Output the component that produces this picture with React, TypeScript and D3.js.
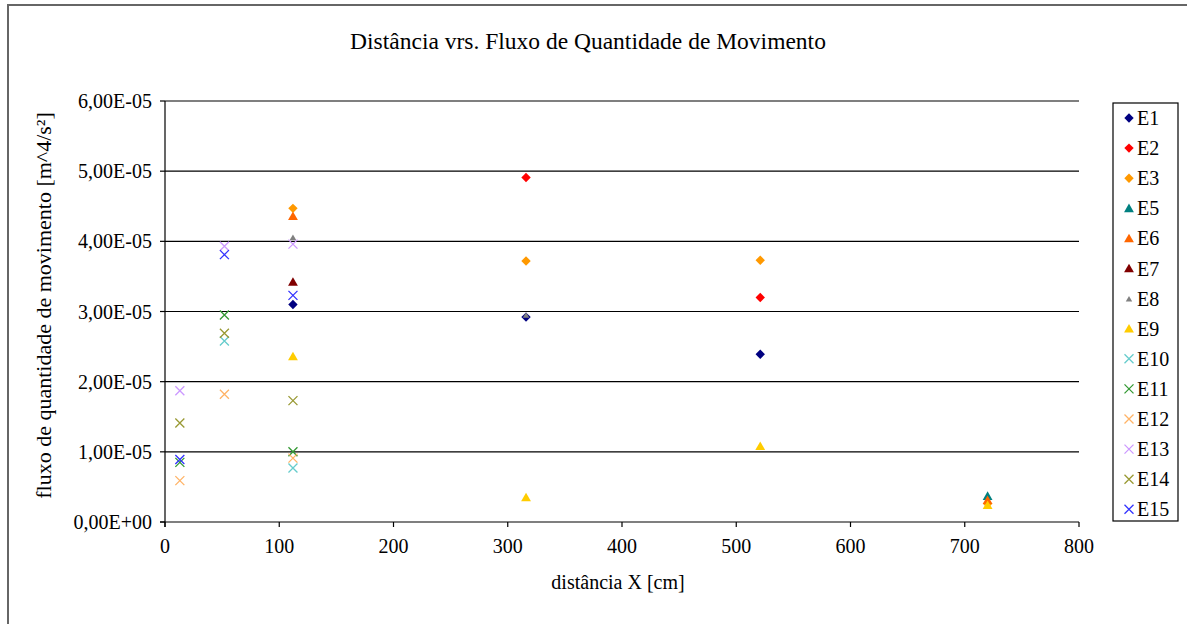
import React from "react";
import * as d3 from "d3";

const xTicks = [0, 100, 200, 300, 400, 500, 600, 700, 800];
const yTicks = [0, 1e-5, 2e-5, 3e-5, 4e-5, 5e-5, 6e-5];
const yTickLabels = ["0,00E+00", "1,00E-05", "2,00E-05", "3,00E-05", "4,00E-05", "5,00E-05", "6,00E-05"];

const seriesNames = ["E1", "E2", "E3", "E5", "E6", "E7", "E8", "E9", "E10", "E11", "E12", "E13", "E14", "E15"];
const seriesColors = ["#000080", "#FF0000", "#FF9900", "#008080", "#FF6600", "#800000", "#808080", "#FFCC00", "#66CCCC", "#339933", "#FFB366", "#CC99FF", "#999933", "#3333FF"];
const seriesShapes = ["diamond", "diamond", "diamond", "triangle", "triangle", "triangle", "smalltriangle", "triangle", "x", "x", "x", "x", "x", "x"];

const E1 = [[112, 3.10e-5], [316, 2.92e-5], [521, 2.39e-5]];
const E2 = [[316, 4.91e-5], [521, 3.20e-5]];
const E3 = [[112, 4.47e-5], [316, 3.72e-5], [521, 3.73e-5], [720, 2.6e-6]];
const E5 = [[720, 3.7e-6]];
const E6 = [[112, 4.36e-5], [720, 3.1e-6]];
const E7 = [[112, 3.42e-5]];
const E8 = [[112, 4.06e-5], [316, 2.95e-5]];
const E9 = [[112, 2.36e-5], [316, 3.5e-6], [521, 1.08e-5], [720, 2.4e-6]];
const E10 = [[52, 2.58e-5], [112, 7.7e-6]];
const E11 = [[13, 8.5e-6], [52, 2.95e-5], [112, 1.0e-5]];
const E12 = [[13, 5.9e-6], [52, 1.82e-5], [112, 9.1e-6]];
const E13 = [[13, 1.87e-5], [52, 3.93e-5], [112, 3.96e-5]];
const E14 = [[13, 1.41e-5], [52, 2.69e-5], [112, 1.73e-5]];
const E15 = [[13, 8.9e-6], [52, 3.81e-5], [112, 3.23e-5]];

const seriesData = [E1, E2, E3, E5, E6, E7, E8, E9, E10, E11, E12, E13, E14, E15];

const FONT = "'Liberation Serif', 'Times New Roman', serif";

function Marker({ shape, color, x, y }: { shape: string; color: string; x: number; y: number }) {
  if (shape === "diamond") {
    const p = d3.symbol().type(d3.symbolSquare).size(44)();
    return <path d={p || ""} transform={`translate(${x},${y}) rotate(45)`} fill={color} />;
  }
  if (shape === "triangle" || shape === "smalltriangle") {
    const p = d3.symbol().type(d3.symbolTriangle).size(shape === "triangle" ? 42 : 18)();
    return <path d={p || ""} transform={`translate(${x},${y + 1})`} fill={color} />;
  }
  const r = 4.5;
  return (
    <path
      d={`M${-r},${-r}L${r},${r}M${-r},${r}L${r},${-r}`}
      transform={`translate(${x},${y})`}
      stroke={color}
      strokeWidth={1.3}
      fill="none"
    />
  );
}

export default function App() {
  const left = 165, right = 1079, top = 101, bottom = 522;
  const x = d3.scaleLinear().domain([0, 800]).range([left, right]);
  const y = d3.scaleLinear().domain([0, 6e-5]).range([bottom, top]);

  const legendX = 1113, legendY = 103, legendW = 65, legendH = 418;
  const legendStep = 30.1;

  return (
    <svg width={1187} height={624} style={{ position: "absolute", left: 0, top: 0, background: "#fff" }}>
      <rect x={0} y={0} width={1187} height={624} fill="#fff" />
      <rect x={8} y={5} width={1220} height={700} fill="none" stroke="#666" strokeWidth={2} />
      <text x={588} y={49} textAnchor="middle" fontFamily={FONT} fontSize={23.5} fill="#000">
        Distância vrs. Fluxo de Quantidade de Movimento
      </text>

      {yTicks.slice(1).map((t) => (
        <line key={"g" + t} x1={left} x2={right} y1={y(t)} y2={y(t)} stroke="#000" strokeWidth={1.2} />
      ))}
      <line x1={left} x2={left} y1={top} y2={bottom + 5} stroke="#000" strokeWidth={1.2} />
      <line x1={left - 5} x2={right} y1={bottom} y2={bottom} stroke="#000" strokeWidth={1.2} />
      {yTicks.map((t, i) => (
        <g key={"yt" + t}>
          <line x1={left - 5} x2={left} y1={y(t)} y2={y(t)} stroke="#000" strokeWidth={1.2} />
          <text x={152} y={y(t) + 7} textAnchor="end" fontFamily={FONT} fontSize={20} fill="#000">
            {yTickLabels[i]}
          </text>
        </g>
      ))}
      {xTicks.map((t) => (
        <g key={"xt" + t}>
          <line x1={x(t)} x2={x(t)} y1={bottom} y2={bottom + 5} stroke="#000" strokeWidth={1.2} />
          <text x={x(t)} y={bottom + 31} textAnchor="middle" fontFamily={FONT} fontSize={20} fill="#000">
            {t}
          </text>
        </g>
      ))}

      <text x={618} y={589} textAnchor="middle" fontFamily={FONT} fontSize={20} fill="#000">
        distância X [cm]
      </text>
      <text
        transform={`translate(51,${(top + bottom) / 2 - 6}) rotate(-90)`}
        textAnchor="middle"
        fontFamily={FONT}
        fontSize={22}
        fill="#000"
      >
        fluxo de quantidade de movimento [m^4/s²]
      </text>

      {seriesData.map((pts, si) =>
        pts.map((d, j) => (
          <Marker key={si + "-" + j} shape={seriesShapes[si]} color={seriesColors[si]} x={x(d[0])} y={y(d[1])} />
        ))
      )}

      <rect x={legendX} y={legendY} width={legendW} height={legendH} fill="#fff" stroke="#000" strokeWidth={1.2} />
      {seriesNames.map((n, i) => {
        const cy = legendY + 15 + i * legendStep;
        return (
          <g key={"l" + n}>
            <Marker shape={seriesShapes[i]} color={seriesColors[i]} x={legendX + 16} y={cy} />
            <text x={legendX + 24} y={cy + 7} fontFamily={FONT} fontSize={20} fill="#000">
              {n}
            </text>
          </g>
        );
      })}
    </svg>
  );
}
